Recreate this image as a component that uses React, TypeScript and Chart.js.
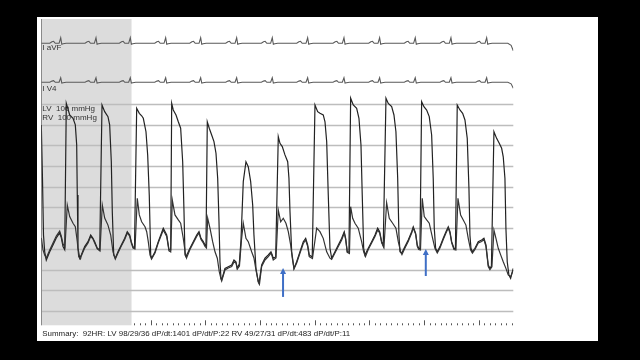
import React, { useEffect, useRef } from "react";
import { Chart, registerables } from "chart.js";

Chart.register(...registerables);

// ---- axes (time in seconds, pressure in mmHg) ----
const TIME_MIN = 0;
const TIME_MAX = 8.63;
const PRESSURE_MIN = -6.91;
const PRESSURE_MAX = 141.06;
const SHADED_END = 1.65; // end of the grey reference window (s)
const PRESSURE_GRID = [0, 10, 20, 30, 40, 50, 60, 70, 80, 90, 100];
const TIME_TICK_START = 1.7;
const TIME_TICK_END = 8.6;
const TIME_TICK_STEP = 0.1;

// ---- LV pressure trace [time s, mmHg] ----
const lvTrace: [number, number][] = [
  [0, 89.9], [0.022, 63.3], [0.04, 36.7], [0.062, 28.6], [0.091, 24.6], [0.154, 28.6], [0.214, 31.9], [0.274, 35.3], [0.336, 37.7], [0.366, 35.3], [0.397, 31.1], [0.428, 29.6],
  [0.457, 100.3], [0.519, 94.7], [0.58, 93.1], [0.622, 89.9], [0.647, 80.2], [0.658, 56.0], [0.671, 30.4], [0.702, 25.5],
  [0.731, 27.1], [0.793, 31.1], [0.854, 33.5], [0.903, 36.7], [0.945, 35.1], [0.976, 33.5], [1.024, 30.3], [1.068, 29.6],
  [1.11, 99.5], [1.159, 96.3], [1.219, 93.9], [1.25, 89.9], [1.28, 72.1], [1.298, 48.0], [1.324, 27.1], [1.353, 25.5],
  [1.402, 28.6], [1.463, 31.9], [1.525, 35.1], [1.572, 38.3], [1.616, 36.7], [1.645, 33.5], [1.676, 31.1], [1.704, 30.4],
  [1.744, 97.9], [1.792, 95.5], [1.835, 94.3], [1.865, 93.1], [1.914, 86.6], [1.945, 75.4], [1.974, 56.0], [2.0, 27.1], [2.018, 25.5],
  [2.079, 28.6], [2.139, 33.5], [2.23, 40.0], [2.293, 36.7], [2.335, 29.5], [2.366, 29.5],
  [2.384, 100.3], [2.413, 97.1], [2.463, 94.7], [2.505, 91.4], [2.548, 88.3], [2.585, 72.1], [2.609, 48.0], [2.627, 27.1], [2.645, 26.2],
  [2.718, 30.3], [2.779, 33.5], [2.841, 36.7], [2.883, 38.3], [2.92, 35.1], [2.962, 33.5], [2.993, 31.9], [3.011, 31.4],
  [3.035, 91.4], [3.071, 88.3], [3.115, 85.0], [3.157, 81.8], [3.194, 76.2], [3.225, 64.1], [3.249, 43.1], [3.267, 23.8], [3.285, 15.8],
  [3.298, 15.0], [3.358, 20.6], [3.419, 21.4], [3.481, 22.2], [3.523, 24.6], [3.559, 23.8], [3.583, 20.6], [3.62, 22.7],
  [3.651, 34.3], [3.693, 62.5], [3.742, 72.1], [3.784, 69.7], [3.828, 62.5], [3.865, 51.2], [3.888, 36.7], [3.925, 20.6], [3.967, 14.2], [3.98, 13.4],
  [4.029, 22.2], [4.09, 25.5], [4.15, 27.1], [4.199, 28.6], [4.223, 27.1], [4.241, 25.5], [4.285, 26.1],
  [4.333, 84.2], [4.364, 81.0], [4.406, 79.4], [4.455, 75.4], [4.505, 72.1], [4.528, 64.1], [4.547, 48.0], [4.578, 28.6], [4.62, 20.6],
  [4.669, 23.8], [4.73, 28.6], [4.79, 33.5], [4.834, 35.1], [4.87, 31.9], [4.899, 27.1], [4.954, 26.1],
  [5.004, 99.5], [5.053, 96.3], [5.095, 95.5], [5.155, 94.7], [5.187, 91.4], [5.218, 81.8], [5.247, 56.0], [5.278, 30.3], [5.309, 25.5],
  [5.369, 28.6], [5.43, 31.9], [5.492, 35.1], [5.539, 38.3], [5.565, 35.1], [5.594, 28.6], [5.625, 28.5],
  [5.656, 102.8], [5.704, 99.5], [5.766, 97.9], [5.808, 93.1], [5.845, 80.2], [5.868, 56.0], [5.894, 30.3], [5.918, 27.1],
  [5.978, 30.3], [6.04, 33.5], [6.101, 36.7], [6.15, 40.0], [6.187, 38.3], [6.223, 33.5], [6.252, 31.4],
  [6.302, 102.8], [6.344, 100.3], [6.406, 98.7], [6.448, 94.7], [6.484, 86.6], [6.516, 64.1], [6.539, 36.7], [6.558, 28.6], [6.589, 27.9],
  [6.649, 31.1], [6.709, 34.3], [6.772, 38.3], [6.801, 40.7], [6.845, 37.5], [6.874, 31.9], [6.9, 30.3], [6.923, 30.0],
  [6.954, 101.1], [6.996, 98.7], [7.046, 97.1], [7.093, 93.9], [7.137, 85.0], [7.166, 64.1], [7.185, 40.0], [7.21, 30.3], [7.24, 28.6],
  [7.289, 31.1], [7.349, 35.1], [7.399, 38.3], [7.441, 40.7], [7.472, 38.3], [7.503, 33.5], [7.545, 30.3], [7.572, 30.0],
  [7.605, 99.5], [7.654, 97.1], [7.704, 95.5], [7.746, 92.3], [7.788, 83.4], [7.819, 59.3], [7.837, 36.7], [7.856, 30.3], [7.879, 28.6],
  [7.929, 30.3], [7.989, 33.5], [8.051, 34.3], [8.093, 35.1], [8.13, 31.9], [8.172, 22.2], [8.203, 20.6], [8.23, 21.7],
  [8.276, 86.6], [8.325, 83.4], [8.373, 81.0], [8.417, 78.6], [8.446, 74.5], [8.477, 64.1], [8.495, 40.0], [8.519, 23.8], [8.55, 17.4], [8.581, 15.8], [8.629, 20.6],
];

// ---- RV pressure trace [time s, mmHg] ----
const rvTrace: [number, number][] = [
  [0, 35.3], [0.031, 29.5], [0.062, 27.1], [0.091, 25.6], [0.154, 29.5], [0.214, 32.9], [0.274, 36.2], [0.336, 38.6], [0.366, 36.2], [0.397, 32.4], [0.433, 30.9],
  [0.475, 51.2], [0.519, 45.6], [0.58, 42.4], [0.622, 40.7], [0.658, 33.5], [0.684, 26.2], [0.717, 25.1],
  [0.731, 26.6], [0.793, 30.4], [0.854, 32.9], [0.903, 36.0], [0.945, 34.8], [0.976, 32.9], [1.024, 30.0], [1.073, 29.0],
  [1.115, 51.2], [1.159, 44.9], [1.219, 41.5], [1.269, 36.7], [1.311, 28.6], [1.353, 25.1],
  [1.402, 28.0], [1.463, 31.4], [1.525, 34.5], [1.572, 37.7], [1.616, 36.2], [1.645, 32.9], [1.676, 30.4], [1.713, 30.0],
  [1.755, 54.4], [1.792, 46.4], [1.835, 43.1], [1.896, 40.7], [1.927, 38.3], [1.956, 33.5], [1.987, 27.1], [2.015, 25.1],
  [2.079, 28.0], [2.139, 32.9], [2.23, 39.1], [2.293, 36.0], [2.335, 29.0], [2.366, 28.5],
  [2.395, 53.6], [2.444, 46.4], [2.505, 44.0], [2.548, 42.4], [2.596, 35.1], [2.633, 27.9], [2.655, 25.6],
  [2.718, 29.7], [2.779, 32.9], [2.841, 36.0], [2.883, 37.7], [2.92, 34.5], [2.962, 32.9], [2.993, 31.2], [3.02, 30.4],
  [3.042, 44.8], [3.084, 40.0], [3.133, 33.5], [3.176, 28.6], [3.218, 25.5], [3.254, 19.0], [3.285, 15.5],
  [3.298, 14.5], [3.358, 19.8], [3.419, 20.8], [3.481, 21.5], [3.523, 23.7], [3.559, 23.2], [3.583, 20.3], [3.623, 21.7],
  [3.66, 34.3], [3.693, 42.4], [3.742, 35.1], [3.784, 33.5], [3.846, 28.6], [3.888, 25.6], [3.925, 19.8], [3.967, 14.0], [3.989, 13.0],
  [4.029, 21.5], [4.09, 24.6], [4.15, 26.3], [4.199, 28.0], [4.223, 26.3], [4.241, 24.6], [4.291, 25.6],
  [4.333, 48.8], [4.377, 43.1], [4.424, 44.8], [4.473, 42.4], [4.516, 38.3], [4.559, 31.9], [4.589, 25.5], [4.62, 20.3],
  [4.669, 23.2], [4.73, 28.0], [4.79, 32.6], [4.834, 34.3], [4.87, 31.2], [4.899, 26.3], [4.958, 25.4],
  [5.035, 40.0], [5.095, 38.3], [5.155, 35.1], [5.218, 28.6], [5.278, 25.5], [5.309, 24.9],
  [5.369, 28.0], [5.43, 31.2], [5.492, 34.3], [5.539, 37.7], [5.565, 34.5], [5.594, 28.3], [5.634, 27.8],
  [5.656, 50.4], [5.693, 44.8], [5.735, 42.4], [5.795, 40.0], [5.857, 33.5], [5.894, 28.6], [5.927, 26.3],
  [5.978, 29.7], [6.04, 32.9], [6.101, 36.0], [6.15, 39.1], [6.187, 37.7], [6.223, 32.9], [6.265, 30.7],
  [6.314, 52.3], [6.362, 44.8], [6.424, 42.4], [6.484, 40.0], [6.527, 33.5], [6.57, 28.6], [6.594, 27.3],
  [6.649, 30.4], [6.709, 33.6], [6.772, 37.7], [6.801, 40.1], [6.845, 37.0], [6.874, 31.2], [6.9, 29.7], [6.933, 29.5],
  [6.965, 54.4], [7.002, 45.6], [7.046, 44.0], [7.093, 42.4], [7.155, 35.1], [7.197, 30.3], [7.24, 28.0],
  [7.289, 30.4], [7.349, 34.5], [7.399, 37.7], [7.441, 40.1], [7.472, 37.7], [7.503, 32.9], [7.545, 29.7], [7.581, 29.5],
  [7.618, 54.4], [7.667, 46.4], [7.715, 44.0], [7.764, 41.5], [7.806, 35.1], [7.85, 29.5], [7.883, 28.0],
  [7.929, 29.7], [7.989, 32.9], [8.051, 33.6], [8.093, 34.5], [8.13, 31.2], [8.172, 21.5], [8.203, 20.0], [8.239, 21.3],
  [8.276, 39.1], [8.313, 35.1], [8.355, 30.3], [8.399, 27.1], [8.446, 23.8], [8.495, 20.6], [8.537, 17.4], [8.581, 16.6], [8.629, 19.8],
];

// ---- ECG (mV) ----
const qrsTimes = [0.355, 1.0, 1.627, 2.274, 2.914, 3.572, 4.223, 4.87, 5.534, 6.186, 6.837, 7.49, 8.143];
const ecgOffsets = [-0.2, -0.16, -0.13, -0.1, -0.03, 0, 0.02, 0.045, 0.1];
const aVFShape = [0, 0.15, 0.2, 0, 0, 0.55, -0.1, -0.05, 0];
const v4Shape = [0, 0.12, 0.16, 0, 0, 0.45, -0.08, -0.04, 0];
const aVFEnd: [number, number][] = [[8.53, 0], [8.59, -0.2], [8.63, -0.75]];
const v4End: [number, number][] = [[8.53, 0], [8.59, -0.15], [8.63, -0.6]];

// ---- arrows (time s, from mmHg, to mmHg) ----
const arrowTimes = [4.42, 7.03];
const arrowFrom = [6.8, 16.9];
const arrowTo = [20.8, 30.0];

// ---- labels ----
const ecgLabels = ["I aVF", "I V4"];
const pressureLabels = ["LV  100 mmHg", "RV  100 mmHg"];
const summaryText =
  "Summary:  92HR: LV 98/29/36 dP/dt:1401 dP/dt/P:22 RV 49/27/31 dP/dt:483 dP/dt/P:11";

function buildEcg(shape: number[], end: [number, number][]) {
  const pts: { x: number; y: number }[] = [{ x: TIME_MIN, y: 0 }];
  qrsTimes.forEach((q) => {
    ecgOffsets.forEach((o, i) => {
      const t = q + o;
      if (t >= TIME_MIN && t <= TIME_MAX) pts.push({ x: t, y: shape[i] });
    });
  });
  end.forEach(([x, y]) => pts.push({ x, y }));
  return pts;
}

const FONT = '"Liberation Sans", Arial, sans-serif';

const decorPlugin = {
  id: "decor",
  beforeDraw(chart: any) {
    const { ctx, chartArea: a, scales } = chart;
    const xs = scales.x;
    const ys = scales.y;
    ctx.save();
    ctx.fillStyle = "#000";
    ctx.fillRect(0, 0, chart.width, chart.height);
    ctx.fillStyle = "#fff";
    ctx.fillRect(37, 17, 561, 324);
    // shaded reference window
    const sx = xs.getPixelForValue(SHADED_END);
    ctx.fillStyle = "#dcdcdc";
    ctx.fillRect(a.left, a.top, sx - a.left, a.bottom - a.top);
    // pressure grid
    ctx.strokeStyle = "#bdbdbd";
    ctx.lineWidth = 1.3;
    PRESSURE_GRID.forEach((v) => {
      const py = Math.round(ys.getPixelForValue(v)) + 0.5;
      ctx.beginPath();
      ctx.moveTo(a.left, py);
      ctx.lineTo(a.right, py);
      ctx.stroke();
    });
    // left border
    ctx.strokeStyle = "#8a8a8a";
    ctx.lineWidth = 1;
    ctx.beginPath();
    ctx.moveTo(Math.round(a.left) + 0.5, a.top);
    ctx.lineTo(Math.round(a.left) + 0.5, a.bottom);
    ctx.stroke();
    // time ticks
    ctx.strokeStyle = "#555";
    const n = Math.round((TIME_TICK_END - TIME_TICK_START) / TIME_TICK_STEP);
    for (let i = 0; i <= n; i++) {
      const t = TIME_TICK_START + i * TIME_TICK_STEP;
      const major = Math.abs(t - Math.round(t)) < 1e-6;
      const px = Math.round(xs.getPixelForValue(t)) + 0.5;
      ctx.beginPath();
      ctx.moveTo(px, a.bottom);
      ctx.lineTo(px, a.bottom - (major ? 5 : 2));
      ctx.stroke();
    }
    ctx.restore();
  },
  afterDatasetsDraw(chart: any) {
    const { ctx, chartArea: a, scales } = chart;
    const xs = scales.x;
    const ys = scales.y;
    ctx.save();
    ctx.fillStyle = "#333";
    ctx.textBaseline = "middle";
    ctx.font = `8px ${FONT}`;
    ctx.fillText(ecgLabels[0], a.left + 1, 48);
    ctx.fillText(ecgLabels[1], a.left + 1, 89);
    ctx.fillText(pressureLabels[0], a.left + 1, 109);
    ctx.fillText(pressureLabels[1], a.left + 1, 117.5);
    // summary line, fitted to its width in the reference
    ctx.font = `8px ${FONT}`;
    const w = ctx.measureText(summaryText).width;
    const size = (8 * 308) / w;
    ctx.font = `${size.toFixed(2)}px ${FONT}`;
    ctx.fillStyle = "#222";
    ctx.fillText(summaryText, a.left + 1, 333.5);
    // arrows
    ctx.strokeStyle = "#3f6fc6";
    ctx.fillStyle = "#3f6fc6";
    ctx.lineWidth = 2;
    arrowTimes.forEach((t, i) => {
      const px = xs.getPixelForValue(t);
      const y0 = ys.getPixelForValue(arrowFrom[i]);
      const y1 = ys.getPixelForValue(arrowTo[i]);
      ctx.beginPath();
      ctx.moveTo(px, y0);
      ctx.lineTo(px, y1 + 5);
      ctx.stroke();
      ctx.beginPath();
      ctx.moveTo(px, y1);
      ctx.lineTo(px - 3, y1 + 6);
      ctx.lineTo(px + 3, y1 + 6);
      ctx.closePath();
      ctx.fill();
    });
    ctx.restore();
  },
};

export default function App() {
  const ref = useRef<HTMLCanvasElement | null>(null);
  useEffect(() => {
    if (!ref.current) return;
    const chart = new Chart(ref.current, {
      type: "line",
      data: {
        datasets: [
          {
            label: "aVF",
            data: buildEcg(aVFShape, aVFEnd),
            yAxisID: "yA",
            borderColor: "#5a5a5a",
            borderWidth: 1.1,
            pointRadius: 0,
            tension: 0,
          },
          {
            label: "V4",
            data: buildEcg(v4Shape, v4End),
            yAxisID: "yV",
            borderColor: "#5a5a5a",
            borderWidth: 1.1,
            pointRadius: 0,
            tension: 0,
          },
          {
            label: "RV",
            data: rvTrace.map(([x, y]) => ({ x, y })),
            yAxisID: "y",
            borderColor: "#333",
            borderWidth: 1.2,
            pointRadius: 0,
            tension: 0,
          },
          {
            label: "LV",
            data: lvTrace.map(([x, y]) => ({ x, y })),
            yAxisID: "y",
            borderColor: "#222",
            borderWidth: 1.2,
            pointRadius: 0,
            tension: 0,
          },
        ],
      },
      options: {
        animation: false,
        responsive: false,
        devicePixelRatio: 1,
        parsing: false as any,
        layout: { padding: { left: 41.3, right: 126.7, top: 19, bottom: 34.7 } },
        plugins: { legend: { display: false }, tooltip: { enabled: false } },
        events: [],
        scales: {
          x: { type: "linear", display: false, min: TIME_MIN, max: TIME_MAX },
          y: { type: "linear", display: false, min: PRESSURE_MIN, max: PRESSURE_MAX },
          yA: { type: "linear", display: false, min: -28.2, max: 2.43 },
          yV: { type: "linear", display: false, min: -24.3, max: 6.33 },
        },
      },
      plugins: [decorPlugin],
    });
    return () => chart.destroy();
  }, []);
  return (
    <div style={{ position: "fixed", left: 0, top: 0, width: 640, height: 360, background: "#000" }}>
      <canvas ref={ref} width={640} height={360} style={{ display: "block" }} />
    </div>
  );
}
